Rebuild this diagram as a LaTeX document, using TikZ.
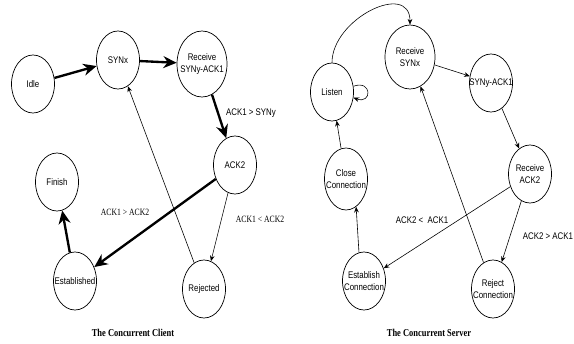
\documentclass[tikz,border=0pt]{standalone}
\usepackage{fontspec}
\setmainfont{Liberation Serif}[FakeStretch=0.8]
\setsansfont{Liberation Sans}[FakeStretch=0.82]
\usepackage{tikz}
\usetikzlibrary{arrows.meta,positioning,shapes.geometric}

\begin{document}
\begin{tikzpicture}[x=0.3mm,y=-0.3mm,>=Stealth,
  state/.style={draw,ellipse,line width=0.6pt,minimum width=12.9mm,
                minimum height=17.4mm,inner sep=0pt},
  every label/.style={font=\sffamily\fontsize{8.2}{10.6}\selectfont,align=center},
  heavy/.style={->,line width=2pt,>={Stealth[length=4mm,width=3.6mm]}},
  lite/.style={->,line width=0.5pt,>={Stealth[length=1.7mm,width=1.4mm]}},
  cond/.style={font=\sffamily\fontsize{8.2}{9}\selectfont},
  condtm/.style={font=\fontsize{8.2}{9}\selectfont},
  caption/.style={font=\bfseries\fontsize{9}{10}\selectfont}]
  \useasboundingbox (0,0) rectangle (574,344);

  % client
  \node[state,label=center:Idle] (idle) at (33,84) {};
  \node[state,label=center:SYNx] (synx) at (118,60) {};
  \node[state,minimum width=15mm,minimum height=19.8mm,
        label=center:{Receive\\SYNy-ACK1}] (rsynack) at (202,64) {};
  \node[state,label=center:ACK2] (ack) at (235,165) {};
  \node[state,label=center:Finish] (fin) at (57,182) {};
  \node[state,label=center:Established] (est) at (75,281) {};
  \node[state,label=center:Rejected] (rej) at (204,289) {};

  \draw[heavy] (idle) -- (synx);
  \draw[heavy] (synx) -- (rsynack);
  \draw[heavy] (rsynack) -- (ack);
  \draw[heavy] (ack) -- (est);
  \draw[heavy] (est) -- (fin);
  \draw[lite] (ack) -- (rej);
  \draw[lite] (rej) -- (synx);

  \node[cond] (c1) at (251,113) {ACK1 > SYNy};
  \node[condtm] (c2) at (125,212) {ACK1 > ACK2};
  \node[condtm] (c3) at (260,219) {ACK1 < ACK2};
  \node[caption] (capc) at (133,333) {The Concurrent Client};

  % server
  \node[state,label=center:Listen] (listen) at (332,92) {};
  \node[state,minimum width=15mm,minimum height=19.2mm,
        label=center:{Receive\\SYNx}] (rsynx) at (410,57) {};
  \node[state,label=center:SYNy-ACK1] (synack) at (491,83) {};
  \node[state,label=center:{Receive\\ACK2}] (rack) at (530,174) {};
  \node[state,minimum height=18.6mm,
        label=center:{Close\\Connection}] (close) at (346,179) {};
  \node[state,label=center:{Establish\\Connection}] (estc) at (364,281) {};
  \node[state,label=center:{Reject\\Connection}] (rejc) at (493,289) {};

  \draw[lite] (listen.north) to[out=90,in=90,looseness=1.3] (rsynx.north);
  \draw[lite] (listen.15) .. controls +(20:6mm) and +(-20:6mm) .. (listen.-15);
  \draw[lite] (rsynx) -- (synack);
  \draw[lite] (synack) -- (rack);
  \draw[lite] (rack) -- (estc);
  \draw[lite] (rack) -- (rejc);
  \draw[lite] (rejc) -- (rsynx);
  \draw[lite] (estc.100) -- (close.-70);
  \draw[lite] (close) -- (listen);

  \node[cond] (s1) at (422,220) {ACK2 <\ \ ACK1};
  \node[cond] (s2) at (548,236) {ACK2 > ACK1};
  \node[caption] (caps) at (429,333) {The Concurrent Server};
\end{tikzpicture}
\end{document}
